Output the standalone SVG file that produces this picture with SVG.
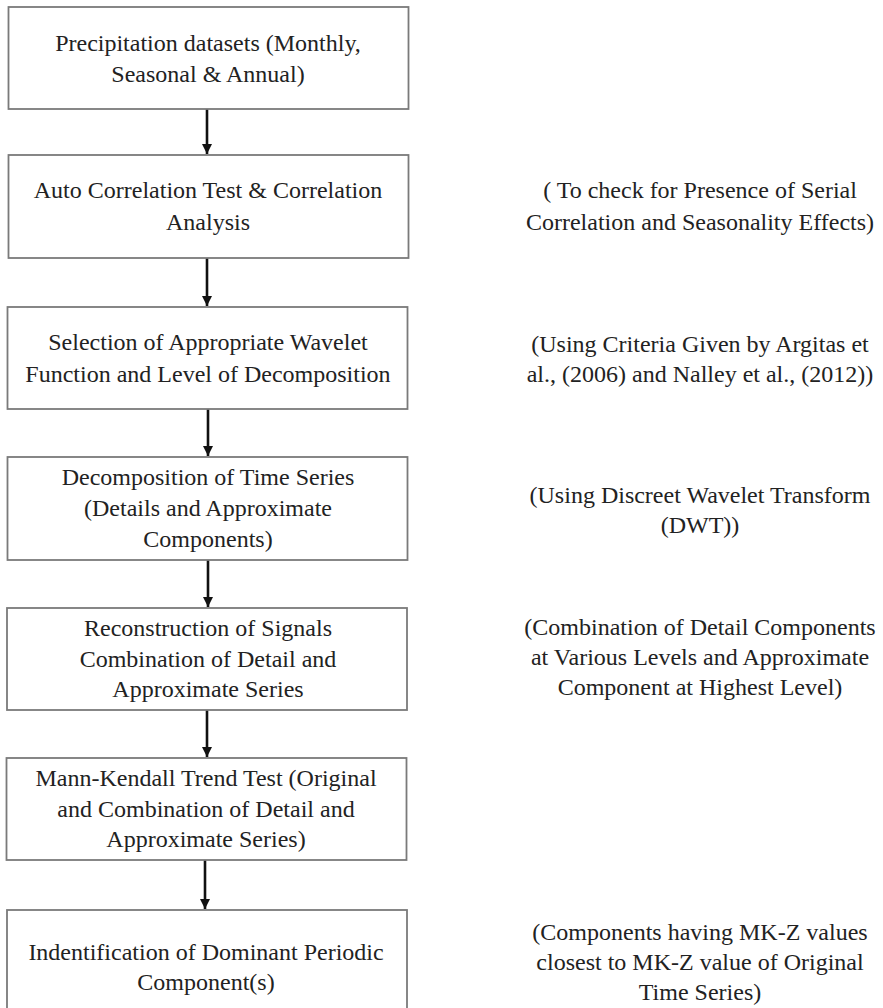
<svg xmlns="http://www.w3.org/2000/svg" width="883" height="1008" viewBox="0 0 883 1008">
<style>
.box{fill:#fff;stroke:#7a7a7a;stroke-width:1.8}
.t{font-family:'Liberation Serif','DejaVu Serif',serif;font-size:24px;fill:#222;text-anchor:middle}
.c{stroke:#111;stroke-width:2.6;fill:none}
</style>
<defs>
<marker id="ah" markerUnits="userSpaceOnUse" markerWidth="10" markerHeight="12" refX="10" refY="5" orient="auto" viewBox="0 0 10 10">
<path d="M0,0 L10,5 L0,10 Z" fill="#111"/>
</marker>
</defs>
<rect width="883" height="1008" fill="#fff"/>
<g id="connectors">
<line class="c" x1="207" y1="109" x2="207" y2="154" marker-end="url(#ah)"/>
<line class="c" x1="207" y1="258" x2="207" y2="306" marker-end="url(#ah)"/>
<line class="c" x1="208" y1="409" x2="208" y2="456" marker-end="url(#ah)"/>
<line class="c" x1="208" y1="560" x2="208" y2="607" marker-end="url(#ah)"/>
<line class="c" x1="207" y1="710" x2="207" y2="757" marker-end="url(#ah)"/>
<line class="c" x1="205" y1="860" x2="205" y2="909" marker-end="url(#ah)"/>
</g>
<g id="n1">
<rect class="box" x="8.5" y="7" width="400" height="102"/>
<text class="t" x="208" y="51">Precipitation datasets (Monthly,</text>
<text class="t" x="208" y="82">Seasonal &amp; Annual)</text>
</g>
<g id="n2">
<rect class="box" x="8.5" y="155" width="400" height="103"/>
<text class="t" x="208" y="198">Auto Correlation Test &amp; Correlation</text>
<text class="t" x="208" y="230">Analysis</text>
</g>
<g id="n3">
<rect class="box" x="7.5" y="307" width="400" height="102"/>
<text class="t" x="208" y="350">Selection of Appropriate Wavelet</text>
<text class="t" x="208" y="382">Function and Level of Decomposition</text>
</g>
<g id="n4">
<rect class="box" x="7.5" y="457" width="400" height="103"/>
<text class="t" x="208" y="485">Decomposition of Time Series</text>
<text class="t" x="208" y="516">(Details and Approximate</text>
<text class="t" x="208" y="547">Components)</text>
</g>
<g id="n5">
<rect class="box" x="7" y="608" width="400" height="102"/>
<text class="t" x="208" y="636">Reconstruction of Signals</text>
<text class="t" x="208" y="667">Combination of Detail and</text>
<text class="t" x="208" y="697">Approximate Series</text>
</g>
<g id="n6">
<rect class="box" x="6.5" y="758" width="400" height="102"/>
<text class="t" x="206" y="786">Mann-Kendall Trend Test (Original</text>
<text class="t" x="206" y="817">and Combination of Detail and</text>
<text class="t" x="206" y="847">Approximate Series)</text>
</g>
<g id="n7">
<rect class="box" x="7" y="910" width="400" height="110"/>
<text class="t" x="206" y="960">Indentification of Dominant Periodic</text>
<text class="t" x="206" y="990">Component(s)</text>
</g>
<g id="a2">
<text class="t" x="700" y="198">( To check for Presence of Serial</text>
<text class="t" x="700" y="230">Correlation and Seasonality Effects)</text>
</g>
<g id="a3">
<text class="t" x="700" y="352">(Using Criteria Given by Argitas et</text>
<text class="t" x="700" y="382">al., (2006) and Nalley et al., (2012))</text>
</g>
<g id="a4">
<text class="t" x="700" y="503">(Using Discreet Wavelet Transform</text>
<text class="t" x="700" y="533">(DWT))</text>
</g>
<g id="a5">
<text class="t" x="700" y="635">(Combination of Detail Components</text>
<text class="t" x="700" y="665">at Various Levels and Approximate</text>
<text class="t" x="700" y="695">Component at Highest Level)</text>
</g>
<g id="a7">
<text class="t" x="700" y="940">(Components having MK-Z values</text>
<text class="t" x="700" y="970">closest to MK-Z value of Original</text>
<text class="t" x="700" y="1000">Time Series)</text>
</g>
</svg>
